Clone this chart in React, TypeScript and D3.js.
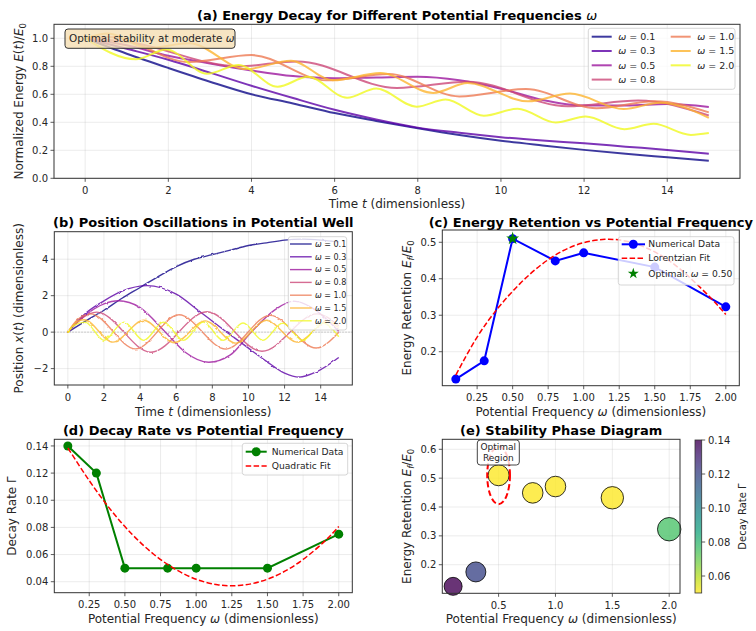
import React from "react";
import * as d3 from "d3";

type Pt = [number, number];
type Lin = d3.ScaleLinear<number, number>;

// ---------------------------------------------------------------- data
const omegas = [0.1, 0.3, 0.5, 0.8, 1.0, 1.5, 2.0];
const omegaLabels = ["0.1", "0.3", "0.5", "0.8", "1.0", "1.5", "2.0"];

// final energy fraction E_f/E_0 for each potential frequency
const retention = [0.125, 0.175, 0.51, 0.449, 0.471, 0.432, 0.323];
// fitted decay rate Γ for each potential frequency
const decayRate = [0.14, 0.12, 0.05, 0.05, 0.05, 0.05, 0.075];
// marker areas in the phase diagram
const bubbleArea = [324, 400, 441, 424, 424, 502, 548];

// normalized energy E(t)/E0, knots [t, E]
const energy01: Pt[] = [[0, 1.0], [1, 0.89], [2, 0.788], [3, 0.69], [4, 0.6], [5, 0.535], [6, 0.466], [7, 0.41], [8, 0.358], [9, 0.31], [10, 0.269], [11, 0.235], [12, 0.203], [13, 0.175], [14, 0.15], [15, 0.125]];
const energy03: Pt[] = [[0, 1.0], [1, 0.925], [2, 0.847], [3, 0.755], [4, 0.661], [5, 0.573], [6, 0.489], [7, 0.42], [8, 0.362], [9, 0.325], [10, 0.294], [11, 0.27], [12, 0.25], [13, 0.226], [14, 0.203], [15, 0.175]];
const energy05: Pt[] = [[0, 1.0], [1, 0.95], [2, 0.875], [3, 0.82], [4, 0.77], [5, 0.73], [6, 0.715], [7, 0.72], [8, 0.725], [9, 0.7], [10, 0.64], [11, 0.56], [12, 0.52], [13, 0.52], [14, 0.53], [15, 0.51]];
const energy08: Pt[] = [[0, 1.0], [1.0, 0.975], [3.7, 0.8], [5.1, 0.835], [7.5, 0.645], [9.2, 0.69], [11.6, 0.515], [13.3, 0.555], [15, 0.449]];
const energy10: Pt[] = [[0, 1.0], [0.6, 1.01], [2.5, 0.83], [4.0, 0.88], [5.8, 0.7], [7.3, 0.745], [9.0, 0.585], [10.6, 0.637], [12.3, 0.5], [13.7, 0.55], [15, 0.471]];
const energy15: Pt[] = [[0, 1.0], [0.55, 1.035], [1.5, 0.93], [2.5, 0.965], [3.87, 0.78], [4.95, 0.84], [5.96, 0.7], [7.1, 0.752], [8.37, 0.61], [9.2, 0.68], [10.65, 0.55], [11.66, 0.605], [12.95, 0.495], [13.83, 0.54], [15, 0.432]];
const energy20: Pt[] = [[0, 1.0], [1.22, 0.85], [1.95, 0.92], [2.93, 0.747], [3.69, 0.81], [4.63, 0.654], [5.36, 0.725], [6.3, 0.575], [7.0, 0.641], [7.97, 0.511], [8.67, 0.563], [9.59, 0.447], [10.4, 0.497], [11.32, 0.398], [12.04, 0.441], [12.97, 0.351], [13.67, 0.389], [14.57, 0.31], [15, 0.323]];
const energyCurves = [energy01, energy03, energy05, energy08, energy10, energy15, energy20];

// particle position x(t), knots [t, x]
const pos01: Pt[] = [[0, 0], [1, 0.62], [2, 1.2], [3, 1.86], [4, 2.45], [5, 3.05], [6, 3.6], [7, 4.0], [8, 4.25], [9, 4.5], [10, 4.75], [11, 4.9], [12, 5.05], [13, 5.1], [14, 5.05], [15, 4.95]];
const pos03: Pt[] = [[0, 0], [1, 1.05], [2, 1.72], [3, 2.25], [4.4, 2.55], [6, 2.08], [7.3, 1.13], [8.8, 0], [10, -0.88], [11, -1.6], [12, -2.25], [12.8, -2.47], [13.8, -2.16], [15, -1.39]];
const pos05: Pt[] = [[0, 0], [1, 0.95], [2, 1.55], [2.8, 1.72], [4, 1.35], [5.4, 0], [6.5, -1.1], [7.8, -1.65], [9, -1.25], [10.15, 0], [11.5, 1.25], [12.5, 1.7], [13.5, 1.35], [15, 0.05]];
const pos08: Pt[] = [[0, 0], [0.7, 0.7], [1.6, 1.1], [4.6, -1.1], [7.7, 1.12], [10.75, -1.05], [13.8, 1.0], [15, 0.35]];
const pos10: Pt[] = [[0, 0], [0.5, 0.65], [1.25, 1.0], [3.75, -0.92], [6.15, 0.95], [8.75, -0.93], [11.2, 0.92], [13.75, -0.87], [15, 0]];
const pos15: Pt[] = [[0, 0], [0.35, 0.45], [0.9, 0.68], [2.5, -0.55], [4.2, 0.65], [5.9, -0.58], [7.6, 0.62], [9.3, -0.6], [11.0, 0.65], [12.7, -0.55], [14.4, 0.6], [15, 0.2]];
const pos20: Pt[] = [[0, 0], [0.4, 0.4], [0.95, 0.55], [2.0, -0.45], [3.1, 0.55], [4.2, -0.45], [5.3, 0.55], [6.4, -0.45], [7.5, 0.55], [8.6, -0.45], [9.7, 0.5], [10.8, -0.45], [11.9, 0.5], [13.0, -0.45], [14.1, 0.5], [15, -0.25]];
const posCurves = [pos01, pos03, pos05, pos08, pos10, pos15, pos20];

// Lorentzian fit of the retention curve
const lorentzW = [0.1, 0.25, 0.4, 0.55, 0.7, 0.85, 1.0, 1.15, 1.3, 1.45, 1.6, 1.75, 1.9, 2.0];
const lorentzE = [0.136, 0.24, 0.321, 0.386, 0.438, 0.476, 0.499, 0.508, 0.503, 0.483, 0.45, 0.402, 0.345, 0.302];
// quadratic fit of the decay rate
const quadW = [0.1, 0.25, 0.4, 0.55, 0.7, 0.85, 1.0, 1.15, 1.3, 1.45, 1.6, 1.75, 1.9, 2.0];
const quadG = [0.1385, 0.1145, 0.093, 0.075, 0.0604, 0.0494, 0.0418, 0.0378, 0.0372, 0.0401, 0.0465, 0.0564, 0.0697, 0.0806];

// ticks
const timeTicks = [0, 2, 4, 6, 8, 10, 12, 14];
const energyTicks = [0, 0.2, 0.4, 0.6, 0.8, 1.0];
const posTicks = [-2, 0, 2, 4];
const freqTicks = [0.25, 0.5, 0.75, 1.0, 1.25, 1.5, 1.75, 2.0];
const retTicks = [0.2, 0.3, 0.4, 0.5];
const decayTicks = [0.04, 0.06, 0.08, 0.1, 0.12, 0.14];
const phaseXTicks = [0.5, 1.0, 1.5, 2.0];
const phaseYTicks = [0.2, 0.3, 0.4, 0.5, 0.6];
const cbarTicks = [0.06, 0.08, 0.1, 0.12, 0.14];

// ---------------------------------------------------------------- style
const FONT = "'DejaVu Sans', sans-serif";
const INK = "#262626";
const lineColors = omegas.map((_, i) => d3.interpolatePlasma(i / 6));
const minus = (s: string) => s.replace("-", "\u2212");
const f1 = (v: number) => minus(v.toFixed(1));
const f2 = (v: number) => minus(v.toFixed(2));
const f0 = (v: number) => minus(v.toFixed(0));

function Axes({ x, y, xt, yt, xf, yf, children }: { x: Lin; y: Lin; xt: number[]; yt: number[]; xf: (v: number) => string; yf: (v: number) => string; children?: React.ReactNode }) {
  const [x0, x1] = x.range();
  const [y0, y1] = y.range();
  return (
    <g>
      <g stroke="#b0b0b0" strokeOpacity={0.3} strokeWidth={0.8}>
        {xt.map((v) => <line key={"gx" + v} x1={x(v)} x2={x(v)} y1={y1} y2={y0} />)}
        {yt.map((v) => <line key={"gy" + v} x1={x0} x2={x1} y1={y(v)} y2={y(v)} />)}
      </g>
      {children}
      <rect x={x0} y={y1} width={x1 - x0} height={y0 - y1} fill="none" stroke="#333" strokeWidth={1} />
      <g stroke="#333" strokeWidth={0.8}>
        {xt.map((v) => <line key={"tx" + v} x1={x(v)} x2={x(v)} y1={y0} y2={y0 + 3.5} />)}
        {yt.map((v) => <line key={"ty" + v} x1={x0 - 3.5} x2={x0} y1={y(v)} y2={y(v)} />)}
      </g>
      <g fontFamily={FONT} fontSize={10} fill={INK}>
        {xt.map((v) => <text key={"lx" + v} x={x(v)} y={y0 + 15.5} textAnchor="middle">{xf(v)}</text>)}
        {yt.map((v) => <text key={"ly" + v} x={x0 - 6} y={y(v) + 3.6} textAnchor="end">{yf(v)}</text>)}
      </g>
    </g>
  );
}

function Title({ x, y, children }: { x: number; y: number; children: React.ReactNode }) {
  return <text x={x} y={y} textAnchor="middle" fontFamily={FONT} fontSize={13} fontWeight="bold" fill="#000">{children}</text>;
}

function XLabel({ x, y, children }: { x: number; y: number; children: React.ReactNode }) {
  return <text x={x} y={y} textAnchor="middle" fontFamily={FONT} fontSize={12} fill={INK}>{children}</text>;
}

function YLabel({ x, y, size = 12, children }: { x: number; y: number; size?: number; children: React.ReactNode }) {
  return <text transform={`translate(${x},${y}) rotate(-90)`} textAnchor="middle" fontFamily={FONT} fontSize={size} fill={INK}>{children}</text>;
}

const Om = () => <tspan fontStyle="italic" fontWeight="normal">ω</tspan>;
const It = ({ c }: { c: string }) => <tspan fontStyle="italic">{c}</tspan>;

const retentionLabel = (
  <>
    Energy Retention <It c="E" /><tspan fontSize={8.5} dy={3} fontStyle="italic">f</tspan><tspan dy={-3}>/</tspan><It c="E" /><tspan fontSize={8.5} dy={3}>0</tspan>
  </>
);
const freqLabel = <>Potential Frequency <tspan fontStyle="italic">ω</tspan> (dimensionless)</>;

export default function App() {
  // ---- (a) energy decay
  const ax = d3.scaleLinear().domain([-0.75, 15.75]).range([54, 740]);
  const ay = d3.scaleLinear().domain([0, 1.1]).range([178.3, 24.3]);
  const lineA = d3.line<Pt>().x((d) => ax(d[0])).y((d) => ay(d[1])).curve(d3.curveMonotoneX);

  // ---- (b) positions
  const bx = d3.scaleLinear().domain([-0.75, 15.75]).range([54.3, 352.3]);
  const by = d3.scaleLinear().domain([-2.9, 5.51]).range([385, 231.7]);
  const lineB = d3.line<Pt>().x((d) => bx(d[0])).y((d) => by(d[1])).curve(d3.curveMonotoneX);

  // ---- (c) retention
  const cx = d3.scaleLinear().domain([0.005, 2.095]).range([442.3, 739.3]);
  const cy = d3.scaleLinear().domain([0.1068, 0.5337]).range([385.7, 230]);
  const retPts: Pt[] = omegas.map((w, i) => [w, retention[i]]);
  const lorPts: Pt[] = lorentzW.map((w, i) => [w, lorentzE[i]]);
  const lineC = d3.line<Pt>().x((d) => cx(d[0])).y((d) => cy(d[1]));
  const fitC = d3.line<Pt>().x((d) => cx(d[0])).y((d) => cy(d[1])).curve(d3.curveNatural);
  const best = d3.maxIndex(retention);

  // ---- (d) decay rate
  const dx = d3.scaleLinear().domain([0.005, 2.095]).range([54.3, 352.3]);
  const dy = d3.scaleLinear().domain([0.0319, 0.1449]).range([592.7, 439.3]);
  const decPts: Pt[] = omegas.map((w, i) => [w, decayRate[i]]);
  const quadPts: Pt[] = quadW.map((w, i) => [w, quadG[i]]);
  const lineD = d3.line<Pt>().x((d) => dx(d[0])).y((d) => dy(d[1]));
  const fitD = d3.line<Pt>().x((d) => dx(d[0])).y((d) => dy(d[1])).curve(d3.curveNatural);

  // ---- (e) phase diagram
  const ex = d3.scaleLinear().domain([0.005, 2.095]).range([442.3, 680]);
  const ey = d3.scaleLinear().domain([0.1009, 0.6347]).range([593.3, 439.3]);
  const gMin = 0.05, gMax = 0.14;
  const colorOf = (g: number) => d3.interpolateViridis(1 - (g - gMin) / (gMax - gMin));
  const rScale = d3.scaleSqrt().domain([0, d3.max(bubbleArea)!]).range([0, 11.7]);
  const cbY = d3.scaleLinear().domain([gMin, gMax]).range([593, 440]);
  const stops = d3.range(0, 1.0001, 0.1);

  const starPath = d3.symbol().type(d3.symbolStar).size(52)()!;
  const starSmall = d3.symbol().type(d3.symbolStar).size(38)()!;

  return (
    <svg width={756} height={631} viewBox="0 0 756 631" style={{ position: "absolute", left: 0, top: 0, background: "#fff" }}>
      <defs>
        <filter id="brownian" filterUnits="userSpaceOnUse" x={40} y={220} width={330} height={180}>
          <feTurbulence type="fractalNoise" baseFrequency="0.2" numOctaves={2} seed={7} result="n" />
          <feDisplacementMap in="SourceGraphic" in2="n" scale={2.4} xChannelSelector="R" yChannelSelector="G" />
        </filter>
        <linearGradient id="cbar" x1="0" y1="0" x2="0" y2="1">
          {stops.map((o) => <stop key={o} offset={o} stopColor={d3.interpolateViridis(o)} />)}
        </linearGradient>
      </defs>
      <rect width={756} height={631} fill="#fff" />

      {/* (a) energy decay */}
      <Axes x={ax} y={ay} xt={timeTicks} yt={energyTicks} xf={f0} yf={f1}>
        {energyCurves.map((c, i) => (
          <path key={i} d={lineA(c)!} fill="none" stroke={lineColors[i]} strokeOpacity={0.8} strokeWidth={2} />
        ))}
        <rect x={65} y={29} width={170} height={19.3} rx={3} fill="#f5deb3" fillOpacity={0.8} stroke="#333" strokeWidth={1} />
        <text x={69} y={42.4} fontFamily={FONT} fontSize={10.4} fill={INK}>Optimal stability at moderate <Om /></text>
        <g>
          <rect x={588.3} y={28.3} width={146.7} height={61} rx={2.5} fill="#fff" fillOpacity={0.8} stroke="#ccc" strokeWidth={0.8} />
          {omegas.map((w, i) => {
            const col = i < 4 ? 0 : 1;
            const row = i < 4 ? i : i - 4;
            const lx = col === 0 ? 591.7 : 670.7;
            const yy = 36.7 + row * 14.3;
            return (
              <g key={w}>
                <line x1={lx} x2={lx + 20} y1={yy} y2={yy} stroke={lineColors[i]} strokeOpacity={0.8} strokeWidth={2} />
                <text x={lx + 26.6} y={yy + 3.3} fontFamily={FONT} fontSize={9.5} fill={INK}><Om /> = {omegaLabels[i]}</text>
              </g>
            );
          })}
        </g>
      </Axes>
      <Title x={397} y={19.5}>(a) Energy Decay for Different Potential Frequencies <Om /></Title>
      <XLabel x={397} y={208}>Time <It c="t" /> (dimensionless)</XLabel>
      <YLabel x={22.5} y={101.3}>Normalized Energy <It c="E" />(<It c="t" />)/<It c="E" /><tspan fontSize={8.5} dy={3}>0</tspan></YLabel>

      {/* (b) positions */}
      <Axes x={bx} y={by} xt={timeTicks} yt={posTicks} xf={f0} yf={f0}>
        <line x1={54.3} x2={352.3} y1={by(0)} y2={by(0)} stroke="#888" strokeOpacity={0.6} strokeWidth={0.8} strokeDasharray="1.5,1.5" />
        <g filter="url(#brownian)">
          {posCurves.map((c, i) => (
            <path key={i} d={lineB(c)!} fill="none" stroke={lineColors[i]} strokeOpacity={0.8} strokeWidth={1.4} />
          ))}
        </g>
        <g>
          <rect x={288.3} y={236.7} width={58.4} height={93.3} rx={2.5} fill="#fff" fillOpacity={0.8} stroke="#ccc" strokeWidth={0.8} />
          {omegas.map((w, i) => {
            const yy = 244 + i * 12.8;
            return (
              <g key={w}>
                <line x1={290} x2={311.7} y1={yy} y2={yy} stroke={lineColors[i]} strokeOpacity={0.8} strokeWidth={1.4} />
                <text x={315} y={yy + 2.8} fontFamily={FONT} fontSize={8} fill={INK}><Om /> = {omegaLabels[i]}</text>
              </g>
            );
          })}
        </g>
      </Axes>
      <Title x={203.3} y={226.7}>(b) Position Oscillations in Potential Well</Title>
      <XLabel x={203.3} y={415.5}>Time <It c="t" /> (dimensionless)</XLabel>
      <YLabel x={23} y={308.3}>Position <It c="x" />(<It c="t" />) (dimensionless)</YLabel>

      {/* (c) retention vs frequency */}
      <Axes x={cx} y={cy} xt={freqTicks} yt={retTicks} xf={f2} yf={f1}>
        <path d={lineC(retPts)!} fill="none" stroke="#0000ff" strokeWidth={2} />
        {retPts.map((p, i) => <circle key={i} cx={cx(p[0])} cy={cy(p[1])} r={4.5} fill="#0000ff" />)}
        <path d={fitC(lorPts)!} fill="none" stroke="#ff0000" strokeWidth={1.5} strokeDasharray="5.5,2.4" />
        <path d={starPath} transform={`translate(${cx(omegas[best])},${cy(retention[best])})`} fill="#008000" />
        <g>
          <rect x={618.3} y={236.7} width={115.7} height={48.3} rx={2.5} fill="#fff" fillOpacity={0.8} stroke="#ccc" strokeWidth={0.8} />
          <line x1={621.7} x2={645} y1={244.3} y2={244.3} stroke="#0000ff" strokeWidth={2} />
          <circle cx={633.3} cy={244.3} r={4.5} fill="#0000ff" />
          <text x={648.3} y={247.4} fontFamily={FONT} fontSize={9.2} fill={INK}>Numerical Data</text>
          <line x1={621.7} x2={645} y1={258.3} y2={258.3} stroke="#ff0000" strokeWidth={1.5} strokeDasharray="5.5,2.4" />
          <text x={648.3} y={261.4} fontFamily={FONT} fontSize={9.2} fill={INK}>Lorentzian Fit</text>
          <path d={starSmall} transform="translate(633.3,273.6)" fill="#008000" />
          <text x={648.3} y={277.2} fontFamily={FONT} fontSize={9.2} fill={INK}>Optimal: <Om /> = {omegas[best].toFixed(2)}</text>
        </g>
      </Axes>
      <Title x={590.8} y={226.7}>(c) Energy Retention vs Potential Frequency</Title>
      <XLabel x={590.8} y={415.5}>{freqLabel}</XLabel>
      <YLabel x={410.5} y={307.9}>{retentionLabel}</YLabel>

      {/* (d) decay rate vs frequency */}
      <Axes x={dx} y={dy} xt={freqTicks} yt={decayTicks} xf={f2} yf={f2}>
        <path d={lineD(decPts)!} fill="none" stroke="#008000" strokeWidth={2} />
        {decPts.map((p, i) => <circle key={i} cx={dx(p[0])} cy={dy(p[1])} r={4.5} fill="#008000" />)}
        <path d={fitD(quadPts)!} fill="none" stroke="#ff0000" strokeWidth={1.5} strokeDasharray="5.5,2.4" />
        <g>
          <rect x={242.3} y={443.3} width={105.4} height={31.7} rx={2.5} fill="#fff" fillOpacity={0.8} stroke="#ccc" strokeWidth={0.8} />
          <line x1={245.7} x2={266.7} y1={451.7} y2={451.7} stroke="#008000" strokeWidth={2} />
          <circle cx={256.2} cy={451.7} r={4.5} fill="#008000" />
          <text x={271.7} y={454.8} fontFamily={FONT} fontSize={9.2} fill={INK}>Numerical Data</text>
          <line x1={245.7} x2={266.7} y1={466} y2={466} stroke="#ff0000" strokeWidth={1.5} strokeDasharray="5.5,2.4" />
          <text x={271.7} y={469.1} fontFamily={FONT} fontSize={9.2} fill={INK}>Quadratic Fit</text>
        </g>
      </Axes>
      <Title x={203.3} y={435}>(d) Decay Rate vs Potential Frequency</Title>
      <XLabel x={203.3} y={623}>{freqLabel}</XLabel>
      <YLabel x={16} y={516}>Decay Rate Γ</YLabel>

      {/* (e) stability phase diagram */}
      <Axes x={ex} y={ey} xt={phaseXTicks} yt={phaseYTicks} xf={f1} yf={f1}>
        {omegas.map((w, i) => (
          <circle key={w} cx={ex(w)} cy={ey(retention[i])} r={rScale(bubbleArea[i])} fill={colorOf(decayRate[i])} fillOpacity={0.8} stroke="#000" strokeOpacity={0.8} strokeWidth={1} />
        ))}
        <ellipse cx={ex(0.5)} cy={ey(0.51)} rx={(ex(0.6) - ex(0.4)) / 2} ry={(ey(0.41) - ey(0.61)) / 2} fill="none" stroke="#ff0000" strokeWidth={2} strokeDasharray="6,3" />
        <rect x={477.3} y={440} width={42} height={25} rx={3} fill="#fff" fillOpacity={0.8} stroke="#444" strokeWidth={1} />
        <text x={498.3} y={449.7} textAnchor="middle" fontFamily={FONT} fontSize={9} fill={INK}>Optimal</text>
        <text x={498.3} y={460.7} textAnchor="middle" fontFamily={FONT} fontSize={9} fill={INK}>Region</text>
      </Axes>
      <Title x={561.2} y={435}>(e) Stability Phase Diagram</Title>
      <XLabel x={561.2} y={623}>{freqLabel}</XLabel>
      <YLabel x={410.5} y={516.3}>{retentionLabel}</YLabel>

      {/* colorbar */}
      <rect x={695} y={440} width={6.7} height={153} fill="url(#cbar)" fillOpacity={0.8} />
      <rect x={695} y={440} width={6.7} height={153} fill="none" stroke="#333" strokeWidth={0.8} />
      {cbarTicks.map((t) => (
        <g key={t}>
          <line x1={701.7} x2={705.2} y1={cbY(t)} y2={cbY(t)} stroke="#333" strokeWidth={0.8} />
          <text x={708} y={cbY(t) + 3.6} fontFamily={FONT} fontSize={10} fill={INK}>{f2(t)}</text>
        </g>
      ))}
      <YLabel x={745.5} y={516.5} size={10}>Decay Rate Γ</YLabel>
    </svg>
  );
}
